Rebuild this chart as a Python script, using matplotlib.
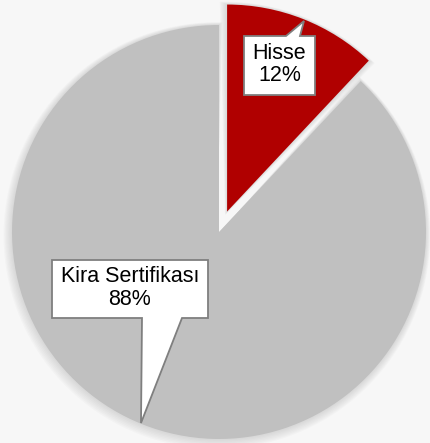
#!/usr/bin/env python3
"""
Pie chart: Hisse vs Kira Sertifikasi share, with callout labels
"""

import matplotlib.pyplot as plt
from matplotlib.patches import Polygon, Wedge

labels = ["Hisse", "Kira Sertifikası"]
shares = [12, 88]
colors = ["#b00000", "#c0c0c0"]

W, H = 431, 443
CENTER = (219, 211)
RADIUS = 207
EXPLODE = [22, 0]  # pie explode is in data units here (pixels)


def callout(ax, box, base, tip):
    """Box (x0, y0, x1, y1) with a pointer; base = (xa, xb, edge) on top/bottom edge."""
    x0, y0, x1, y1 = box
    xa, xb, edge = base
    if edge == "top":
        pts = [(x0, y0), (x1, y0), (x1, y1), (xb, y1), tip, (xa, y1), (x0, y1)]
    else:
        pts = [(x0, y1), (x1, y1), (x1, y0), (xb, y0), tip, (xa, y0), (x0, y0)]
    ax.add_patch(Polygon(pts, closed=True, facecolor="white", edgecolor="#7f7f7f",
                         linewidth=1.3, zorder=5, joinstyle="miter"))


def img(x, y):
    """image pixel coords -> data coords with y up"""
    return (x, H - y)


fig = plt.figure(figsize=(W / 100, H / 100), dpi=100)
fig.patch.set_facecolor("#f7f7f7")
ax = fig.add_axes([0, 0, 1, 1])

wedges, _ = ax.pie(shares, colors=colors, startangle=90, counterclock=False,
                   explode=EXPLODE, center=CENTER, radius=RADIUS, frame=True,
                   wedgeprops=dict(linewidth=0, zorder=2))
ax.set_xlim(0, W)
ax.set_ylim(0, H)
ax.set_aspect("equal")
ax.axis("off")

# soft shadow behind each wedge
for w in wedges:
    cx, cy = w.center
    for k in range(7, 0, -1):
        sh = Wedge((cx - 0.3 * k, cy - 0.5 * k), w.r + k * 0.9,
                   w.theta1 - k * 0.2, w.theta2 + k * 0.2,
                   facecolor="#707070", alpha=0.03, linewidth=0, zorder=1)
        ax.add_patch(sh)

# label callouts
bx0, by0 = img(244, 95)
bx1, by1 = img(315, 36)
callout(ax, (bx0, by0, bx1, by1), (286, 300, "top"), img(304, 21))
ax.text((bx0 + bx1) / 2, (by0 + by1) / 2 + 1, f"{labels[0]}\n{shares[0]}%",
        ha="center", va="center", fontsize=15.5, family="Liberation Sans",
        linespacing=1.1, zorder=6)

kx0, ky0 = img(52, 318)
kx1, ky1 = img(208, 260)
callout(ax, (kx0, ky0, kx1, ky1), (142, 182, "bottom"), img(141, 423))
ax.text((kx0 + kx1) / 2, (ky0 + ky1) / 2 + 1, f"{labels[1]}\n{shares[1]}%",
        ha="center", va="center", fontsize=15.5, family="Liberation Sans",
        linespacing=1.1, zorder=6)

fig.savefig("out.png", dpi=100, facecolor=fig.get_facecolor())
